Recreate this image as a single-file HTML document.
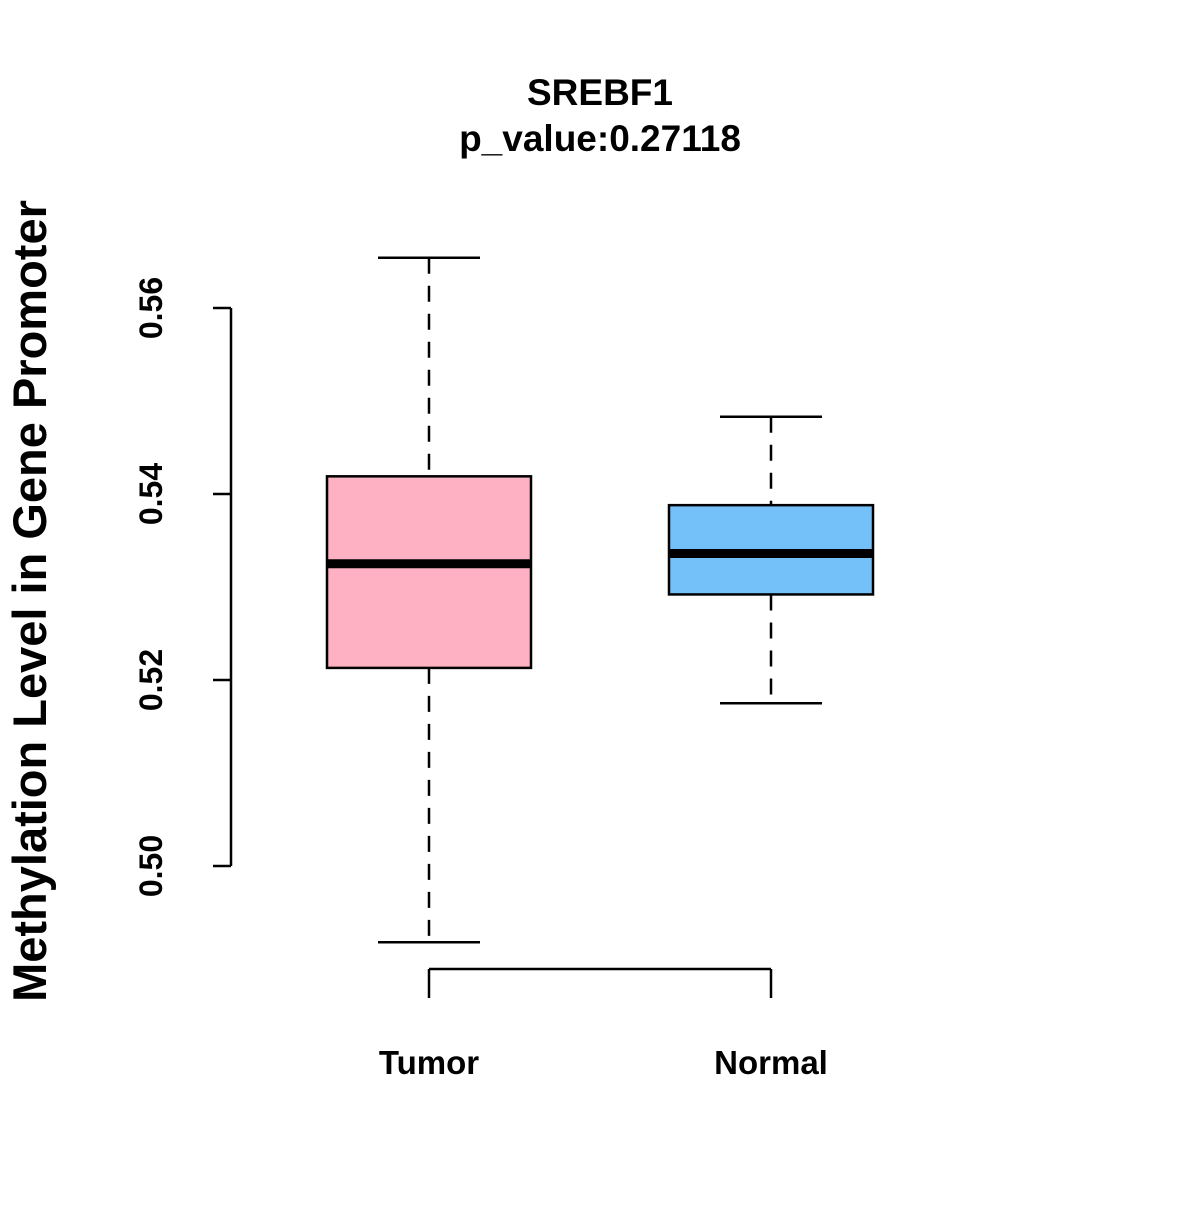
<!DOCTYPE html>
<html><head><meta charset="utf-8"><style>
body{margin:0;background:#fff}
svg text{font-family:"Liberation Sans",Arial,sans-serif;font-weight:bold;fill:#000}
</style></head><body>
<svg id="chart" width="1200" height="1200" viewBox="0 0 1200 1200">
<rect width="1200" height="1200" fill="#fff"/>
<text x="600" y="105" font-size="37" text-anchor="middle">SREBF1</text>
<text x="600" y="151" font-size="37" text-anchor="middle">p_value:0.27118</text>
<text transform="translate(46,601) rotate(-90)" font-size="47" text-anchor="middle">Methylation Level in Gene Promoter</text>
<g id="yaxis"></g>
<g id="xaxis"></g>
<g id="boxes"></g>
</svg>
<script>
const categories = ["Tumor", "Normal"];
const whiskerLow = [0.4918, 0.5175];
const q1 = [0.5213, 0.5292];
const medians = [0.5325, 0.5336];
const q3 = [0.5419, 0.5388];
const whiskerHigh = [0.5654, 0.5483];
const colors = ["#FDB1C3", "#74C0F9"];
const yTicks = [0.50, 0.52, 0.54, 0.56];
const yTickLabels = ["0.50", "0.52", "0.54", "0.56"];

const NS = "http://www.w3.org/2000/svg";
function y(v){ return 866 - (v - 0.50) / 0.02 * 186; }
function x(i){ return 429 + i * 342; }
function mk(parent, tag, attrs){
  const e = document.createElementNS(NS, tag);
  for (const k in attrs) e.setAttribute(k, attrs[k]);
  parent.appendChild(e); return e;
}
const ya = document.getElementById('yaxis');
let l = mk(ya, 'line', {x1:231, x2:231, y1:y(yTicks[0]), y2:y(yTicks[yTicks.length-1]), stroke:'#000','stroke-width':2.5});


yTicks.forEach((t, i) => {
  const tk = mk(ya, 'line', {x1:213, x2:231, y1:y(t), y2:y(t), stroke:'#000','stroke-width':2.5});
  
  
  const tx = mk(ya, 'text', {transform:`translate(162,${y(t)}) rotate(-90)`, 'font-size':32, 'text-anchor':'middle'});
  tx.textContent = yTickLabels[i];
  
  
});
const xa = document.getElementById('xaxis');
l = mk(xa, 'line', {x1:x(0), x2:x(categories.length-1), y1:969, y2:969, stroke:'#000','stroke-width':2.5});


categories.forEach((c, i) => {
  const tk = mk(xa, 'line', {x1:x(i), x2:x(i), y1:969, y2:998, stroke:'#000','stroke-width':2.5});
  
  
  const tx = mk(xa, 'text', {x:x(i), y:1074, 'font-size':33, 'text-anchor':'middle'});
  tx.textContent = c;
  
  
});
const bx = document.getElementById('boxes');
categories.forEach((c, i) => {
  const g = mk(bx, 'g', {});
  
  
  const cx = x(i);
  mk(g, 'line', {x1:cx, x2:cx, y1:y(whiskerHigh[i]), y2:y(q3[i]), stroke:'#000','stroke-width':2.5,'stroke-dasharray':'16,12'});
  mk(g, 'line', {x1:cx, x2:cx, y1:y(q1[i]), y2:y(whiskerLow[i]), stroke:'#000','stroke-width':2.5,'stroke-dasharray':'16,12'});
  mk(g, 'line', {x1:cx-51, x2:cx+51, y1:y(whiskerHigh[i]), y2:y(whiskerHigh[i]), stroke:'#000','stroke-width':2.5});
  mk(g, 'line', {x1:cx-51, x2:cx+51, y1:y(whiskerLow[i]), y2:y(whiskerLow[i]), stroke:'#000','stroke-width':2.5});
  mk(g, 'rect', {x:cx-102, y:y(q3[i]), width:204, height:y(q1[i])-y(q3[i]), fill:colors[i], stroke:'#000','stroke-width':2.5});
  mk(g, 'line', {x1:cx-102, x2:cx+102, y1:y(medians[i]), y2:y(medians[i]), stroke:'#000','stroke-width':9});
});
</script>
</body></html>
